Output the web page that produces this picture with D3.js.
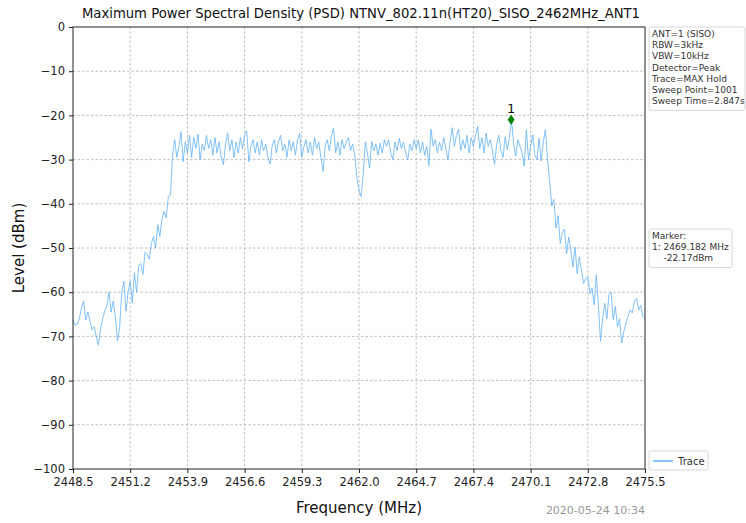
<!DOCTYPE html>
<html>
<head>
<meta charset="utf-8">
<script src="https://cdn.jsdelivr.net/npm/d3@7"></script>
<style>
  body { margin: 0; background: #fff; }
  text { font-family: "DejaVu Sans", sans-serif; }
</style>
</head>
<body>
<div id="chart"></div>
<script>
// sweep settings (MHz)
var sweepStart = 2448.5;
var sweepStep = 0.1;

// trace levels in dBm, one per 0.1 MHz
var levels = [
  -66.3, -67.5, -67.2, -66.0, -63.5, -62.0, -66.3, -64.5, -66.5, -68.5, // 2448.5
  -67.8, -70.0, -72.0, -68.5, -66.0, -64.2, -63.0, -60.0, -64.5, -62.0, // 2449.5
  -65.5, -71.0, -68.0, -60.0, -57.5, -64.3, -60.0, -57.5, -62.5, -55.6, // 2450.5
  -60.0, -54.0, -53.5, -56.0, -51.0, -51.5, -52.5, -49.0, -47.4, -50.0, // 2451.5
  -44.7, -47.4, -43.5, -41.7, -43.2, -38.3, -38.0, -29.0, -25.5, -29.5, // 2452.5
  -27.0, -23.7, -30.5, -26.0, -28.5, -24.5, -29.5, -25.0, -27.5, -24.2, // 2453.5
  -30.0, -26.5, -28.0, -24.5, -27.5, -25.5, -29.0, -25.0, -28.5, -26.0, // 2454.5
  -29.5, -31.2, -26.5, -24.0, -28.0, -25.5, -29.5, -26.0, -28.5, -25.0, // 2455.5
  -27.5, -24.5, -23.5, -30.5, -27.0, -25.5, -28.5, -26.0, -29.0, -25.5, // 2456.5
  -28.0, -26.5, -29.5, -31.0, -27.0, -25.5, -28.5, -26.0, -24.5, -28.0, // 2457.5
  -26.5, -29.5, -25.5, -28.0, -26.0, -29.0, -25.5, -24.0, -29.5, -27.0, // 2458.5
  -25.5, -28.5, -26.0, -29.0, -25.0, -27.5, -26.0, -29.5, -32.7, -27.0, // 2459.5
  -25.5, -28.0, -24.5, -22.9, -28.5, -26.0, -29.0, -25.5, -27.5, -26.0, // 2460.5
  -25.0, -28.0, -26.5, -29.0, -34.0, -37.0, -38.4, -33.0, -26.0, -28.5, // 2461.5
  -31.9, -25.9, -28.0, -26.5, -29.0, -26.3, -28.5, -25.5, -27.0, -25.6, // 2462.5
  -28.5, -30.0, -26.0, -28.0, -25.2, -27.5, -26.0, -28.5, -30.0, -26.5, // 2463.5
  -28.0, -25.5, -27.5, -25.6, -28.5, -26.0, -29.0, -27.0, -31.4, -23.1, // 2464.5
  -27.0, -25.5, -28.5, -26.0, -28.0, -25.0, -27.5, -30.0, -26.0, -22.8, // 2465.5
  -27.0, -24.5, -23.1, -28.0, -25.5, -27.5, -24.5, -28.5, -25.0, -27.0, // 2466.5
  -24.5, -22.5, -27.5, -25.0, -28.5, -24.0, -27.0, -25.5, -28.0, -31.1, // 2467.5
  -26.5, -24.5, -28.0, -29.5, -24.8, -27.7, -25.0, -21.0, -26.5, -29.2, // 2468.5
  -25.5, -27.0, -28.5, -31.5, -23.2, -30.0, -27.0, -24.4, -29.0, -30.0, // 2469.5
  -25.2, -30.3, -26.0, -23.2, -30.0, -35.0, -40.5, -39.0, -45.5, -42.7, // 2470.5
  -49.0, -46.5, -45.7, -51.3, -47.5, -50.5, -54.3, -49.8, -55.8, -52.0, // 2471.5
  -55.0, -58.0, -57.0, -56.5, -60.3, -59.0, -62.9, -56.1, -63.0, -71.1, // 2472.5
  -66.0, -62.5, -66.0, -60.5, -60.0, -66.2, -63.2, -67.8, -66.0, -71.5, // 2473.5
  -68.9, -67.0, -65.5, -64.0, -64.7, -62.0, -61.4, -64.0, -63.0, -65.5, // 2474.5
  -66.0                                                                 // 2475.5
];

var xTicks = [2448.5, 2451.2, 2453.9, 2456.6, 2459.3, 2462.0, 2464.7, 2467.4, 2470.1, 2472.8, 2475.5];
var yTicks = [0, -10, -20, -30, -40, -50, -60, -70, -80, -90, -100];

// marker 1 (plotted on the trace peak as drawn)
var markerFreq = [2469.182];
var markerLevel = [-21.0];
var markerText = ['Marker:', '1: 2469.182 MHz', '    -22.17dBm'];

var infoText = ['ANT=1 (SISO)', 'RBW=3kHz', 'VBW=10kHz', 'Detector=Peak',
  'Trace=MAX Hold', 'Sweep Point=1001', 'Sweep Time=2.847s'];

var title = 'Maximum Power Spectral Density (PSD) NTNV_802.11n(HT20)_SISO_2462MHz_ANT1';
var stamp = '2020-05-24 10:34';

var W = 746, H = 523;
var pLeft = 73, pRight = 645, pTop = 27, pBottom = 469;

var svg = d3.select('#chart').append('svg').attr('width', W).attr('height', H);

var x = d3.scaleLinear().domain([2448.5, 2475.5]).range([pLeft, pRight]);
var y = d3.scaleLinear().domain([-100, 0]).range([pBottom, pTop]);

var fmtY = function(d) { return d < 0 ? '\u2212' + Math.abs(d) : '' + d; };

// grid
var grid = svg.append('g');
grid.selectAll('.gx').data(xTicks.slice(1, -1)).enter().append('line')
  .attr('x1', function(d) { return x(d); }).attr('x2', function(d) { return x(d); })
  .attr('y1', pTop).attr('y2', pBottom);
grid.selectAll('.gy').data(yTicks.slice(1, -1)).enter().append('line')
  .attr('y1', function(d) { return y(d); }).attr('y2', function(d) { return y(d); })
  .attr('x1', pLeft).attr('x2', pRight);
grid.selectAll('line').attr('stroke', '#b0b0b0').attr('stroke-width', 0.8)
  .attr('stroke-dasharray', '2.5,2');

// axes
var xAxis = svg.append('g').attr('transform', 'translate(0,' + pBottom + ')')
  .call(d3.axisBottom(x).tickValues(xTicks).tickFormat(d3.format('.1f')).tickSize(4).tickPadding(5));
var yAxis = svg.append('g').attr('transform', 'translate(' + pLeft + ',0)')
  .call(d3.axisLeft(y).tickValues(yTicks).tickFormat(fmtY).tickSize(4).tickPadding(4));
[xAxis, yAxis].forEach(function(a) {
  a.select('.domain').remove();
  a.selectAll('line').attr('stroke', '#222');
  a.selectAll('text').attr('fill', '#222').style('font-size', '11.5px')
    .style('font-family', '"DejaVu Sans", sans-serif');
});

// trace
var line = d3.line()
  .x(function(d, i) { return x(sweepStart + i * sweepStep); })
  .y(function(d) { return y(d); });
svg.append('path').datum(levels).attr('d', line)
  .attr('fill', 'none').attr('stroke', '#62b2f5').attr('stroke-width', 0.8);

// frame
svg.append('rect').attr('x', pLeft).attr('y', pTop)
  .attr('width', pRight - pLeft).attr('height', pBottom - pTop)
  .attr('fill', 'none').attr('stroke', '#222').attr('stroke-width', 1);

// marker
svg.selectAll('.mk').data(markerFreq).enter().append('path')
  .attr('d', 'M0,-5L3.5,0L0,5L-3.5,0Z')
  .attr('transform', function(d, i) { return 'translate(' + x(d) + ',' + y(markerLevel[i]) + ')'; })
  .attr('fill', '#008000');
svg.selectAll('.mkl').data(markerFreq).enter().append('text')
  .attr('x', function(d) { return x(d); })
  .attr('y', function(d, i) { return y(markerLevel[i]) - 7; })
  .attr('text-anchor', 'middle').style('font-size', '13px').attr('fill', '#111')
  .text(function(d, i) { return i + 1; });

// title and labels
svg.append('text').attr('x', 361).attr('y', 18).attr('text-anchor', 'middle')
  .style('font-size', '13.2px').attr('fill', '#111').text(title);
svg.append('text').attr('transform', 'translate(24,' + ((pTop + pBottom) / 2) + ') rotate(-90)')
  .attr('text-anchor', 'middle').style('font-size', '15px').attr('fill', '#111').text('Level (dBm)');
svg.append('text').attr('x', (pLeft + pRight) / 2).attr('y', 513).attr('text-anchor', 'middle')
  .style('font-size', '15px').attr('fill', '#111').text('Frequency (MHz)');
svg.append('text').attr('x', pRight).attr('y', 514).attr('text-anchor', 'end')
  .style('font-size', '11px').attr('fill', '#999').text(stamp);

// side boxes
function box(lines, bx, by, bw, lh) {
  var g = svg.append('g');
  g.append('rect').attr('x', bx).attr('y', by).attr('width', bw)
    .attr('height', lines.length * lh + 5).attr('rx', 2)
    .attr('fill', '#fff').attr('stroke', '#d8d8d8');
  g.selectAll('text').data(lines).enter().append('text')
    .attr('x', bx + 3).attr('y', function(d, i) { return by + 10 + i * lh; })
    .style('font-size', '9px').style('white-space', 'pre').attr('fill', '#333')
    .text(function(d) { return d; });
}
box(infoText, 649, 27, 96, 11.2);
box(markerText, 649, 229, 83, 11.2);

// legend
var lg = svg.append('g');
lg.append('rect').attr('x', 649).attr('y', 451).attr('width', 59).attr('height', 19).attr('rx', 2)
  .attr('fill', '#fff').attr('stroke', '#d8d8d8');
lg.append('line').attr('x1', 653).attr('x2', 673).attr('y1', 461).attr('y2', 461)
  .attr('stroke', '#62b2f5').attr('stroke-width', 1.5);
lg.append('text').attr('x', 678).attr('y', 465).style('font-size', '10px').attr('fill', '#333').text('Trace');
</script>
</body>
</html>
